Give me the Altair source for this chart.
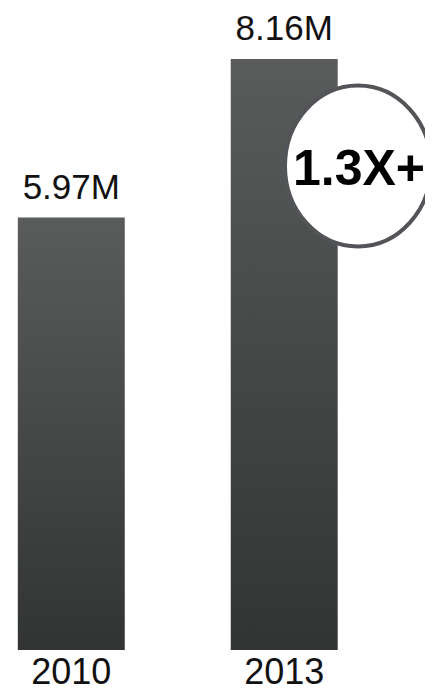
import altair as alt
import pandas as pd

years = ["2010", "2013"]
values = [5.97, 8.16]
value_labels = ["5.97M", "8.16M"]
badge_text = ["1.3X+"]

df = pd.DataFrame({"year": years, "value": values, "label": value_labels})
badge = pd.DataFrame({"text": badge_text})

FONT = "Liberation Sans"

x = alt.X(
    "year:N",
    sort=years,
    scale=alt.Scale(paddingInner=0.4977, paddingOuter=0.228, align=0.101),
    axis=alt.Axis(
        title=None, ticks=False, tickSize=0, domain=False, grid=False,
        labelFontSize=36, labelFont=FONT, labelColor="#111111",
        labelPadding=5, labelAngle=0,
    ),
)
y = alt.Y("value:Q", scale=alt.Scale(domain=[0, 8.864], nice=False, zero=True), axis=None)

grad = alt.Gradient(
    gradient="linear",
    stops=[alt.GradientStop(color="#5a5b5b", offset=0),
           alt.GradientStop(color="#323434", offset=1)],
    x1=0, x2=0, y1=0, y2=1,
)

bars = alt.Chart(df).mark_bar(color=grad).encode(x=x, y=y)

labels = alt.Chart(df).mark_text(
    baseline="alphabetic", dy=-19, fontSize=35, font=FONT, color="#111111"
).encode(x=x, y=y, text="label:N")

ellipse_path = (
    "M 0.907 0 C 0.907 0.5523 0.5009 1 0 1 "
    "C -0.5009 1 -0.907 0.5523 -0.907 0 "
    "C -0.907 -0.5523 -0.5009 -1 0 -1 "
    "C 0.5009 -1 0.907 -0.5523 0.907 0 Z"
)
circle = alt.Chart(badge).mark_point(
    shape=ellipse_path, size=25921, filled=True, fill="white",
    stroke="#525458", strokeWidth=4, opacity=1, fillOpacity=1, strokeOpacity=1,
).encode(x=alt.value(350), y=alt.value(158))

badge_label = alt.Chart(badge).mark_text(
    baseline="alphabetic", fontSize=50, fontWeight="bold", font=FONT, color="#000000"
).encode(x=alt.value(351), y=alt.value(177), text="text:N")

chart = alt.layer(bars, labels, circle, badge_label).properties(
    width=417, height=642,
    autosize=alt.AutoSizeParams(type="none"),
    padding={"left": 0, "top": 0, "right": 0, "bottom": 41},
).configure_view(stroke=None)

chart.save("out.html", embed_options={"renderer": "svg", "actions": False})
